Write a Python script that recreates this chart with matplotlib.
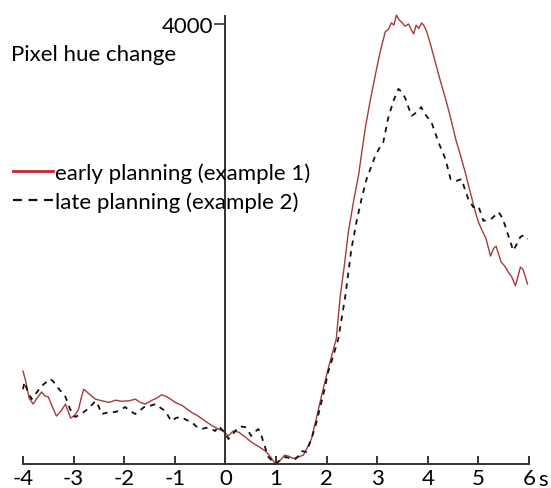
import matplotlib
matplotlib.use('Agg')

import matplotlib.pyplot as plt
from matplotlib.lines import Line2D

plt.rcParams['font.family'] = ['Lato', 'DejaVu Sans']

# time (s) and pixel hue change, early planning (example 1)
t_early = [-4.0, -3.95, -3.88, -3.8, -3.72, -3.63, -3.57, -3.5, -3.42, -3.34, -3.25, -3.16,
           -3.1, -3.06, -2.98, -2.9, -2.85, -2.8, -2.7, -2.57, -2.45, -2.3, -2.17, -2.05,
           -1.9, -1.78, -1.68, -1.58, -1.45, -1.35, -1.26, -1.15, -0.99, -0.85, -0.67,
           -0.52, -0.4, -0.27, -0.14, -0.05, 0.06, 0.15, 0.26, 0.38, 0.51, 0.65, 0.79,
           0.9, 0.99, 1.08, 1.17, 1.24, 1.34, 1.44, 1.54, 1.62, 1.7, 1.8, 1.9, 2.03,
           2.11, 2.19, 2.27, 2.35, 2.43, 2.53, 2.63, 2.7, 2.77, 2.86, 2.96, 3.06, 3.16,
           3.22, 3.28, 3.33, 3.38, 3.43, 3.48, 3.55, 3.62, 3.67, 3.72, 3.77, 3.82, 3.88,
           3.93, 3.98, 4.05, 4.15, 4.25, 4.35, 4.45, 4.55, 4.65, 4.74, 4.84, 4.94, 5.0,
           5.06, 5.15, 5.24, 5.3, 5.35, 5.45, 5.52, 5.59, 5.66, 5.73, 5.78, 5.83, 5.88,
           5.93, 5.97]
v_early = [845, 760, 600, 545, 600, 655, 620, 610, 520, 436, 480, 545,
           470, 418, 440, 500, 600, 680, 640, 590, 575, 560, 580, 570,
           575, 590, 560, 545, 580, 600, 630, 610, 560, 530, 470,
           430, 390, 350, 318, 300, 255, 300, 290, 250, 200, 160, 118,
           60, 0, 30, 80, 73, 50, 64, 80, 150, 227, 420, 620, 864,
           1000, 1136, 1527, 1800, 2110, 2380, 2620, 2850, 3070, 3300, 3530, 3750, 3930,
           3950, 4010, 3990, 4080, 4040, 4018, 3980, 4000, 3950, 3910, 3990, 3960, 4010,
           3980, 3930, 3820, 3650, 3480, 3320, 3150, 2955, 2800, 2650, 2470, 2290, 2200,
           2136, 2050, 1890, 1960, 1980, 1835, 1800, 1745, 1700, 1620, 1700, 1790, 1770,
           1700, 1636]

# time (s) and pixel hue change, late planning (example 2)
t_late = [-4.0, -3.97, -3.9, -3.83, -3.73, -3.63, -3.55, -3.46, -3.4, -3.34, -3.25, -3.16,
          -3.07, -2.97, -2.87, -2.77, -2.67, -2.57, -2.5, -2.45, -2.3, -2.17, -2.08, -1.98,
          -1.88, -1.78, -1.68, -1.58, -1.48, -1.38, -1.28, -1.19, -1.07, -0.97, -0.87,
          -0.77, -0.67, -0.57, -0.47, -0.37, -0.28, -0.2, -0.14, -0.04, 0.06, 0.16, 0.26,
          0.33, 0.39, 0.45, 0.51, 0.58, 0.65, 0.7, 0.75, 0.8, 0.85, 0.92, 0.99, 1.09,
          1.19, 1.29, 1.38, 1.44, 1.5, 1.6, 1.7, 1.8, 1.88, 1.96, 2.03, 2.13, 2.23, 2.3,
          2.37, 2.49, 2.59, 2.69, 2.79, 2.88, 2.96, 3.04, 3.12, 3.22, 3.32, 3.42, 3.49,
          3.56, 3.62, 3.68, 3.73, 3.78, 3.87, 3.92, 3.97, 4.07, 4.14, 4.21, 4.28, 4.35,
          4.45, 4.51, 4.57, 4.67, 4.73, 4.8, 4.9, 5.0, 5.1, 5.18, 5.26, 5.33, 5.4, 5.47,
          5.53, 5.61, 5.69, 5.76, 5.83, 5.9, 5.97]
v_late = [680, 745, 650, 590, 650, 710, 740, 773, 750, 710, 660, 610,
          500, 427, 450, 482, 520, 573, 520, 455, 470, 473, 490, 518,
          480, 455, 490, 527, 530, 545, 510, 482, 390, 420, 427,
          400, 382, 340, 318, 330, 318, 300, 345, 300, 227, 280, 336,
          340, 336, 300, 255, 290, 318, 280, 200, 130, 64, 30, 0, 40,
          64, 50, 45, 70, 118, 110, 227, 380, 530, 680, 836, 980, 1136, 1330,
          1527, 1955, 2200, 2410, 2590, 2700, 2800, 2870, 2925, 3150, 3300, 3410, 3380,
          3320, 3240, 3165, 3180, 3200, 3245, 3200, 3165, 3110, 3020, 2925, 2850, 2770,
          2590, 2580, 2575, 2590, 2500, 2410, 2335, 2345, 2210, 2220, 2230, 2260, 2290, 2240,
          2165, 2050, 1940, 2000, 2065, 2080, 2045]

x_ticks = [-4, -3, -2, -1, 0, 1, 2, 3, 4, 5, 6]
y_ticks = [4000]

fs = 16

fig = plt.figure(figsize=(5.51, 4.89), dpi=100)
ax = fig.add_axes([23 / 551, 24 / 489, 506 / 551, 462 / 489])

ax.plot(t_early, v_early, color='#a83a3a', lw=1.0, clip_on=False)
ax.plot(t_late, v_late, color='#111111', lw=1.3, linestyle=(0, (3, 3)), clip_on=False)

ax.set_xlim(-4, 6)
ax.set_ylim(0, 4200)

for side in ['top', 'right']:
    ax.spines[side].set_visible(False)
ax.spines['left'].set_position(('data', 0))
ax.spines['left'].set_bounds(0, 4075)
for side in ['left', 'bottom']:
    ax.spines[side].set_color('#333333')
    ax.spines[side].set_linewidth(1.4)

ax.set_xticks(x_ticks)
ax.set_xticklabels([str(v) for v in x_ticks])
ax.set_yticks(y_ticks)
ax.set_yticklabels([str(v) for v in y_ticks])
ax.tick_params(axis='x', direction='in', length=6, width=1.4, color='#333333',
               labelsize=fs, pad=3)
ax.tick_params(axis='y', direction='out', length=8, width=1.2, color='#333333',
               labelsize=fs, pad=1)

# unit after the last tick label
fig.text(538 / 551, 1 - 480 / 489, 's', fontsize=fs, ha='left', va='center')

fig.text(11 / 551, 1 - 55 / 489, 'Pixel hue change', fontsize=fs, ha='left', va='center')

handles = [Line2D([], [], color='#cc2233', lw=2.0),
           Line2D([], [], color='#111111', lw=1.6, linestyle=(0, (4, 3)))]
fig.legend(handles, ['early planning (example 1)', 'late planning (example 2)'],
           loc='upper left', bbox_to_anchor=(13 / 551, 1 - 163 / 489),
           frameon=False, fontsize=fs, handlelength=1.8, handletextpad=0.1,
           labelspacing=0.4, borderpad=0, borderaxespad=0)

fig.savefig('out.png', dpi=100)
plt.close(fig)
